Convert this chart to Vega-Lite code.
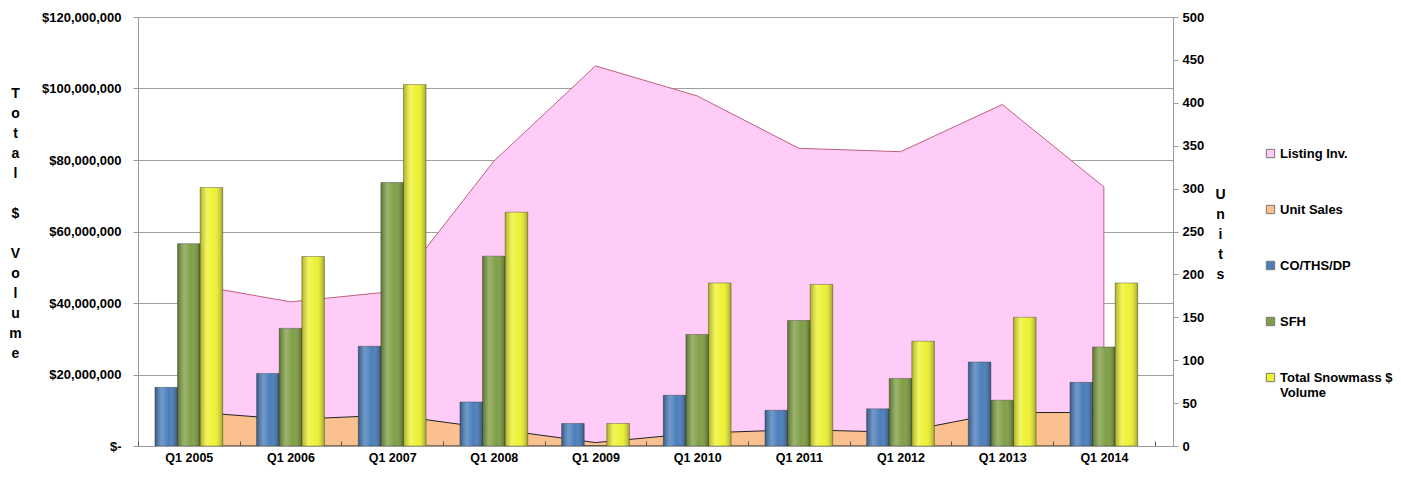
{
  "$schema": "https://vega.github.io/schema/vega-lite/v6.json",
  "width": 1035,
  "height": 429,
  "autosize": {"type": "none"},
  "padding": {"left": 138, "top": 17, "right": 228, "bottom": 31},
  "background": "white",
  "config": {
    "view": {"stroke": null},
    "font": "Liberation Sans",
    "axis": {"labelFont": "Liberation Sans", "labelFontWeight": "bold", "labelColor": "#000", "labelFontSize": 13, "titleFont": "Liberation Sans", "titleColor": "#000", "domainColor": "#9a9a9a", "tickColor": "#9a9a9a"}
  },
  "datasets": {
    "bars": [
      {"quarter": "Q1 2005", "series": "CO/THS/DP", "value": 16400000},
      {"quarter": "Q1 2005", "series": "SFH", "value": 56600000},
      {"quarter": "Q1 2005", "series": "Total Snowmass $ Volume", "value": 72300000},
      {"quarter": "Q1 2006", "series": "CO/THS/DP", "value": 20300000},
      {"quarter": "Q1 2006", "series": "SFH", "value": 32900000},
      {"quarter": "Q1 2006", "series": "Total Snowmass $ Volume", "value": 53000000},
      {"quarter": "Q1 2007", "series": "CO/THS/DP", "value": 27900000},
      {"quarter": "Q1 2007", "series": "SFH", "value": 73700000},
      {"quarter": "Q1 2007", "series": "Total Snowmass $ Volume", "value": 101100000},
      {"quarter": "Q1 2008", "series": "CO/THS/DP", "value": 12300000},
      {"quarter": "Q1 2008", "series": "SFH", "value": 53100000},
      {"quarter": "Q1 2008", "series": "Total Snowmass $ Volume", "value": 65400000},
      {"quarter": "Q1 2009", "series": "CO/THS/DP", "value": 6300000},
      {"quarter": "Q1 2009", "series": "SFH", "value": 0},
      {"quarter": "Q1 2009", "series": "Total Snowmass $ Volume", "value": 6300000},
      {"quarter": "Q1 2010", "series": "CO/THS/DP", "value": 14200000},
      {"quarter": "Q1 2010", "series": "SFH", "value": 31200000},
      {"quarter": "Q1 2010", "series": "Total Snowmass $ Volume", "value": 45600000},
      {"quarter": "Q1 2011", "series": "CO/THS/DP", "value": 10000000},
      {"quarter": "Q1 2011", "series": "SFH", "value": 35100000},
      {"quarter": "Q1 2011", "series": "Total Snowmass $ Volume", "value": 45200000},
      {"quarter": "Q1 2012", "series": "CO/THS/DP", "value": 10400000},
      {"quarter": "Q1 2012", "series": "SFH", "value": 18900000},
      {"quarter": "Q1 2012", "series": "Total Snowmass $ Volume", "value": 29300000},
      {"quarter": "Q1 2013", "series": "CO/THS/DP", "value": 23500000},
      {"quarter": "Q1 2013", "series": "SFH", "value": 12800000},
      {"quarter": "Q1 2013", "series": "Total Snowmass $ Volume", "value": 36000000},
      {"quarter": "Q1 2014", "series": "CO/THS/DP", "value": 17800000},
      {"quarter": "Q1 2014", "series": "SFH", "value": 27700000},
      {"quarter": "Q1 2014", "series": "Total Snowmass $ Volume", "value": 45600000}
    ],
    "listing": [
      {"quarter": "Q1 2005", "series": "Listing Inv.", "units": 189},
      {"quarter": "Q1 2006", "series": "Listing Inv.", "units": 168},
      {"quarter": "Q1 2007", "series": "Listing Inv.", "units": 180},
      {"quarter": "Q1 2008", "series": "Listing Inv.", "units": 332},
      {"quarter": "Q1 2009", "series": "Listing Inv.", "units": 443},
      {"quarter": "Q1 2010", "series": "Listing Inv.", "units": 408},
      {"quarter": "Q1 2011", "series": "Listing Inv.", "units": 347},
      {"quarter": "Q1 2012", "series": "Listing Inv.", "units": 343},
      {"quarter": "Q1 2013", "series": "Listing Inv.", "units": 398},
      {"quarter": "Q1 2014", "series": "Listing Inv.", "units": 302}
    ],
    "sales": [
      {"quarter": "Q1 2005", "series": "Unit Sales", "units": 40},
      {"quarter": "Q1 2006", "series": "Unit Sales", "units": 31},
      {"quarter": "Q1 2007", "series": "Unit Sales", "units": 36},
      {"quarter": "Q1 2008", "series": "Unit Sales", "units": 20},
      {"quarter": "Q1 2009", "series": "Unit Sales", "units": 4},
      {"quarter": "Q1 2010", "series": "Unit Sales", "units": 15},
      {"quarter": "Q1 2011", "series": "Unit Sales", "units": 19},
      {"quarter": "Q1 2012", "series": "Unit Sales", "units": 16},
      {"quarter": "Q1 2013", "series": "Unit Sales", "units": 39},
      {"quarter": "Q1 2014", "series": "Unit Sales", "units": 39}
    ]
  },
  "encoding": {
    "x": {
      "field": "quarter", "type": "nominal", "sort": null, "title": null,
      "scale": {"paddingInner": 0, "paddingOuter": 0.09, "align": 0},
      "axis": {"labelAngle": 0, "labelPadding": 10, "labelFontSize": 12.5, "tickBand": "extent", "tickSize": -5, "tickColor": "#555", "domainColor": "#9a9a9a", "grid": false, "zindex": 1}
    },
    "color": {
      "field": "series", "type": "nominal",
      "scale": {
        "domain": ["Listing Inv.", "Unit Sales", "CO/THS/DP", "SFH", "Total Snowmass $ Volume"],
        "range": ["#FFCCF7", "#FAC090", "#4A7EBB", "#7F9F45", "#EEF233"]
      },
      "legend": {
        "title": null, "orient": "none", "legendX": 1126, "legendY": 130,
        "symbolType": "square", "symbolSize": 70, "symbolStrokeColor": "#777", "symbolStrokeWidth": 1,
        "labelFont": "Liberation Sans", "labelFontWeight": "bold", "labelFontSize": 13, "labelColor": "#000",
        "labelLimit": 200, "rowPadding": 42, "labelOffset": 3,
        "labelExpr": "datum.label == 'Total Snowmass $ Volume' ? ['Total Snowmass $', 'Volume'] : datum.label"
      }
    }
  },
  "layer": [
    {
      "layer": [
        {
          "data": {"name": "listing"},
          "mark": {"type": "area", "stroke": "#C0607E", "strokeWidth": 1, "opacity": 1, "fillOpacity": 1},
          "encoding": {
            "x": {"field": "quarter", "type": "nominal", "sort": null, "bandPosition": 0.5},
            "y": {"field": "units", "type": "quantitative", "stack": null}
          }
        },
        {
          "data": {"name": "sales"},
          "mark": {"type": "area", "stroke": "#222", "strokeWidth": 1, "opacity": 1, "fillOpacity": 1},
          "encoding": {
            "x": {"field": "quarter", "type": "nominal", "sort": null, "bandPosition": 0.5},
            "y": {"field": "units", "type": "quantitative", "stack": null}
          }
        }
      ],
      "encoding": {
        "y": {
          "type": "quantitative",
          "scale": {"domain": [0, 500], "nice": false},
          "axis": {
            "orient": "right", "values": [0, 50, 100, 150, 200, 250, 300, 350, 400, 450, 500],
            "grid": false, "tickSize": 5, "labelPadding": 4,
            "title": ["U", "n", "i", "t", "s"], "titleAngle": 0, "titleAlign": "center", "titleBaseline": "top",
            "titleX": 47, "titleY": 170, "titleLineHeight": 20, "titleFontSize": 14, "titleFontWeight": "bold"
          }
        }
      }
    },
    {
      "data": {"name": "bars"},
      "encoding": {
        "xOffset": {"field": "series", "type": "nominal", "sort": null, "scale": {"paddingInner": 0, "paddingOuter": 0.75}},
        "y": {
          "field": "value", "type": "quantitative", "stack": null,
          "scale": {"domain": [0, 120000000], "nice": false},
          "axis": {
            "orient": "left", "values": [0, 20000000, 40000000, 60000000, 80000000, 100000000, 120000000],
            "grid": true, "gridColor": "#a0a0a0", "gridWidth": 1, "tickSize": 5, "labelPadding": 12,
            "labelExpr": "datum.value == 0 ? '$-' : '$' + format(datum.value, ',')",
            "title": ["T", "o", "t", "a", "l", "\u2800", "$", "\u2800", "V", "o", "l", "u", "m", "e"], "titleAngle": 0, "titleAlign": "center", "titleBaseline": "top",
            "titleX": -123, "titleY": 69, "titleLineHeight": 20, "titleFontSize": 14, "titleFontWeight": "bold"
          }
        }
      },
      "layer": [
        {
          "mark": {"type": "bar", "stroke": "#333", "strokeWidth": 0.8, "strokeOpacity": 0.5}
        },
        {
          "mark": {
            "type": "bar",
            "fill": {"gradient": "linear", "x1": 0, "y1": 0, "x2": 1, "y2": 0, "stops": [
              {"offset": 0, "color": "rgba(0,0,0,0.28)"},
              {"offset": 0.3, "color": "rgba(255,255,255,0.22)"},
              {"offset": 0.6, "color": "rgba(255,255,255,0)"},
              {"offset": 1, "color": "rgba(0,0,0,0.32)"}
            ]}
          },
          "encoding": {"color": {"value": null}}
        }
      ]
    }
  ],
  "resolve": {"scale": {"y": "independent"}}
}
